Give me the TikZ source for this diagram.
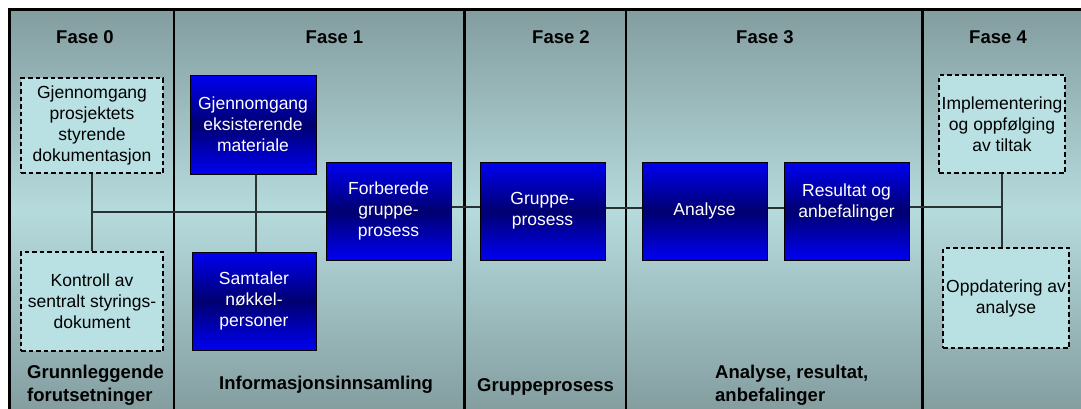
\documentclass[tikz,border=0pt]{standalone}
\usepackage{fontspec}
\setmainfont{Liberation Sans}

\definecolor{panelDark}{RGB}{131,157,159}
\definecolor{panelLight}{RGB}{182,219,221}
\definecolor{noteFill}{RGB}{185,224,227}
\definecolor{boxBright}{RGB}{0,0,242}
\definecolor{boxDeep}{RGB}{0,0,112}
\definecolor{wire}{RGB}{40,50,50}

\tikzset{
  every node/.style={font=\fontsize{17.5}{21}\selectfont, inner sep=0pt, align=center},
  phasehead/.style={font=\bfseries\fontsize{18.5}{23}\selectfont},
  phasefoot/.style={font=\bfseries\fontsize{18.5}{23}\selectfont, anchor=west, align=left},
  notebox/.style={draw=black, line width=1.8pt, dash pattern=on 4.5pt off 3pt, fill=noteFill},
  taskbox/.style={draw=black, line width=1pt, text=white,
    top color=boxBright, bottom color=boxBright, middle color=boxDeep},
  link/.style={draw=wire, line width=1.4pt},
  divider/.style={draw=black, line width=2.8pt},
}

\begin{document}
\begin{tikzpicture}[x=1pt, y=-1pt]
  \useasboundingbox (0,0) rectangle (1081,408);
  \clip (0,0) rectangle (1081,408);

  % panel background
  \shade[top color=panelDark, bottom color=panelDark, middle color=panelLight]
    (9.5,9.5) rectangle (1090,412);
  \draw[line width=3pt] (1095,9.5) -- (9.5,9.5) -- (9.5,420);

  % phase dividers
  \draw[divider] (174,9.5) -- (174,410);
  \draw[divider] (464.5,9.5) -- (464.5,410);
  \draw[divider] (626,9.5) -- (626,410);
  \draw[divider] (922.5,9.5) -- (922.5,410);

  % phase headings
  \node[phasehead] (h0) at (85,37) {Fase 0};
  \node[phasehead] (h1) at (334.5,37) {Fase 1};
  \node[phasehead] (h2) at (561,37) {Fase 2};
  \node[phasehead] (h3) at (765,37) {Fase 3};
  \node[phasehead] (h4) at (998,37) {Fase 4};

  % phase 0
  \node[notebox, minimum width=142pt, minimum height=95pt] (f0top) at (92,125.5)
    {Gjennomgang\\prosjektets\\styrende\\dokumentasjon};
  \node[notebox, minimum width=142pt, minimum height=99pt] (f0bot) at (92,301.5)
    {Kontroll av\\sentralt styrings-\\dokument};

  % phase 1
  \node[taskbox, minimum width=126pt, minimum height=99pt] (f1top) at (253,124.5)
    {Gjennomgang\\eksisterende\\materiale};
  \node[taskbox, minimum width=124pt, minimum height=98pt] (f1bot) at (254,301)
    {Samtaler\\nøkkel-\\personer};
  \node[taskbox, minimum width=125pt, minimum height=98pt] (forb) at (388.5,211)
    {Forberede\\gruppe-\\prosess};

  % phase 2
  \node[taskbox, minimum width=125pt, minimum height=98pt] (grp) at (542.5,211)
    {Gruppe-\\prosess};

  % phase 3
  \node[taskbox, minimum width=125pt, minimum height=98pt] (ana) at (704.5,211)
    {Analyse};
  \node[taskbox, minimum width=125pt, minimum height=98pt] (res) at (846.5,211) {};
  \node[text=white] (restxt) at (846.5,202) {Resultat og\\anbefalinger};

  % phase 4
  \node[notebox, minimum width=126pt, minimum height=98pt] (f4top) at (1002,124)
    {Implementering\\og oppfølging\\av tiltak};
  \node[notebox, minimum width=126pt, minimum height=100pt] (f4bot) at (1006,298)
    {\fontsize{17.5}{18}\selectfont Oppdatering av\\analyse};

  % junction points
  \coordinate (j0) at (f0top.south |- 0,212);
  \coordinate (j4) at (f4top.south |- 0,207);

  % connectors
  \draw[link] (f0top.south) -- (f0top.south |- f0bot.north);
  \draw[link] (j0) -- (j0 -| forb.west);
  \draw[link] ([xshift=3pt]f1top.south) -- ([xshift=3pt]f1top.south |- f1bot.north);
  \draw[link] ([yshift=4pt]forb.east) -- ([yshift=4pt]forb.east -| grp.west);
  \draw[link] ([yshift=3pt]grp.east) -- ([yshift=3pt]grp.east -| ana.west);
  \draw[link] ([yshift=3pt]ana.east) -- ([yshift=3pt]ana.east -| res.west);
  \draw[link] ([yshift=4pt]res.east) -- (j4);
  \draw[link] (f4top.south) -- (f4top.south |- f4bot.north);

  % phase captions
  \node[phasefoot] (c0) at (27,385.5) {Grunnleggende\\forutsetninger};
  \node[phasefoot] (c1) at (219,385) {Informasjonsinnsamling};
  \node[phasefoot] (c2) at (477,387) {Gruppeprosess};
  \node[phasefoot] (c3) at (715,385.5) {Analyse, resultat,\\anbefalinger};
\end{tikzpicture}
\end{document}
